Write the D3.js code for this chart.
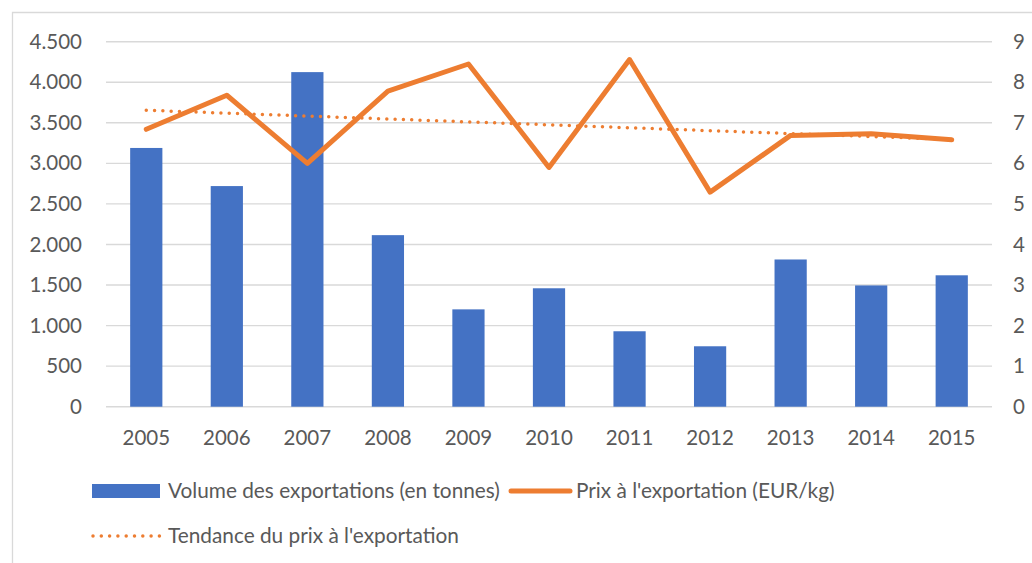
<!DOCTYPE html>
<html>
<head>
<meta charset="utf-8">
<script src="https://cdn.jsdelivr.net/npm/d3@7"></script>
<style>
  html, body { margin: 0; background: #fff; overflow: hidden; }
  svg { display: block; }
  text { font-family: Lato, "Open Sans", sans-serif; fill: #595959; }
</style>
</head>
<body>
<svg class="chart" width="1032" height="563"></svg>
<script>
const years = ["2005", "2006", "2007", "2008", "2009", "2010", "2011", "2012", "2013", "2014", "2015"];
const volumes = [3190, 2720, 4125, 2115, 1200, 1460, 930, 745, 1815, 1495, 1620];
const prices = [6.84, 7.68, 6.0, 7.78, 8.45, 5.90, 8.56, 5.29, 6.69, 6.73, 6.58];
const trendEnds = [7.31, 6.59];
const leftTicks = [0, 500, 1000, 1500, 2000, 2500, 3000, 3500, 4000, 4500];
const rightTicks = [0, 1, 2, 3, 4, 5, 6, 7, 8, 9];
const legendLabels = ["Volume des exportations (en tonnes)", "Prix à l'exportation (EUR/kg)", "Tendance du prix à l'exportation"];

const blue = "#4472C4";
const orange = "#ED7D31";
const grid = "#d9d9d9";

const svg = d3.select(".chart");

// chart frame (only top and left edges are inside the picture)
svg.append("path")
    .attr("d", "M12.5,563V12.5H1032")
    .attr("fill", "none")
    .attr("stroke", grid)
    .attr("stroke-width", 1.3);

const plotLeft = 106, plotRight = 992, plotTop = 41.7, plotBottom = 406.7;

const x = d3.scaleBand().domain(years).range([plotLeft, plotRight]).paddingInner(0.6).paddingOuter(0.3);
const yL = d3.scaleLinear().domain([0, 4500]).range([plotBottom, plotTop]);
const yR = d3.scaleLinear().domain([0, 9]).range([plotBottom, plotTop]);
const cx = d => x(d) + x.bandwidth() / 2;

const fmt = d3.formatLocale({ decimal: ",", thousands: ".", grouping: [3], currency: ["", "€"] }).format(",");

// gridlines
svg.append("g")
    .selectAll("line")
    .data(leftTicks)
    .enter().append("line")
    .attr("x1", plotLeft).attr("x2", plotRight)
    .attr("y1", d => yL(d)).attr("y2", d => yL(d))
    .attr("stroke", grid)
    .attr("stroke-width", 1.4);

// left axis
const axisL = svg.append("g")
    .attr("transform", `translate(${plotLeft - 24},0)`)
    .call(d3.axisLeft(yL).tickValues(leftTicks).tickFormat(fmt).tickSize(0).tickPadding(0));
axisL.select(".domain").remove();
axisL.selectAll("text").style("font-size", "20.5px").attr("fill", "#595959").style("font-family", "Lato");

// right axis
const axisR = svg.append("g")
    .attr("transform", `translate(${plotRight + 21},0)`)
    .call(d3.axisRight(yR).tickValues(rightTicks).tickSize(0).tickPadding(0));
axisR.select(".domain").remove();
axisR.selectAll("text").style("font-size", "20.5px").attr("fill", "#595959").style("font-family", "Lato");

// bottom axis
const axisB = svg.append("g")
    .attr("transform", `translate(0,${plotBottom})`)
    .call(d3.axisBottom(x).tickSize(0).tickPadding(23.5));
axisB.select(".domain").remove();
axisB.selectAll("text").style("font-size", "20.5px").attr("fill", "#595959").style("font-family", "Lato");

// bars
svg.append("g")
    .selectAll("rect")
    .data(years)
    .enter().append("rect")
    .attr("x", d => x(d))
    .attr("width", x.bandwidth())
    .attr("y", (d, i) => yL(volumes[i]))
    .attr("height", (d, i) => plotBottom - yL(volumes[i]))
    .attr("fill", blue);

// trend line
svg.append("path")
    .attr("d", d3.line()([[cx(years[0]), yR(trendEnds[0])], [cx(years[years.length - 1]), yR(trendEnds[1])]]))
    .attr("stroke", orange)
    .attr("stroke-width", 3.5)
    .attr("stroke-linecap", "round")
    .attr("stroke-dasharray", "0 8.3")
    .attr("fill", "none");

// price line
const priceLine = d3.line()
    .x((d, i) => cx(years[i]))
    .y(d => yR(d));
svg.append("path")
    .datum(prices)
    .attr("d", priceLine)
    .attr("stroke", orange)
    .attr("stroke-width", 5)
    .attr("stroke-linejoin", "round")
    .attr("stroke-linecap", "round")
    .attr("fill", "none");

// legend
const legend = svg.append("g").style("font-size", "20.8px");
legend.append("rect")
    .attr("x", 92).attr("y", 484).attr("width", 68).attr("height", 14)
    .attr("fill", blue);
legend.append("text")
    .attr("x", 168).attr("y", 491).attr("dy", "0.35em")
    .text(legendLabels[0]);
legend.append("line")
    .attr("x1", 511).attr("x2", 570).attr("y1", 491).attr("y2", 491)
    .attr("stroke", orange).attr("stroke-width", 5).attr("stroke-linecap", "round");
legend.append("text")
    .attr("x", 576).attr("y", 491).attr("dy", "0.35em")
    .text(legendLabels[1]);
legend.append("line")
    .attr("x1", 93).attr("x2", 160).attr("y1", 536).attr("y2", 536)
    .attr("stroke", orange).attr("stroke-width", 3.5)
    .attr("stroke-linecap", "round").attr("stroke-dasharray", "0 8.3");
legend.append("text")
    .attr("x", 168).attr("y", 536).attr("dy", "0.35em")
    .text(legendLabels[2]);
</script>
</body>
</html>
